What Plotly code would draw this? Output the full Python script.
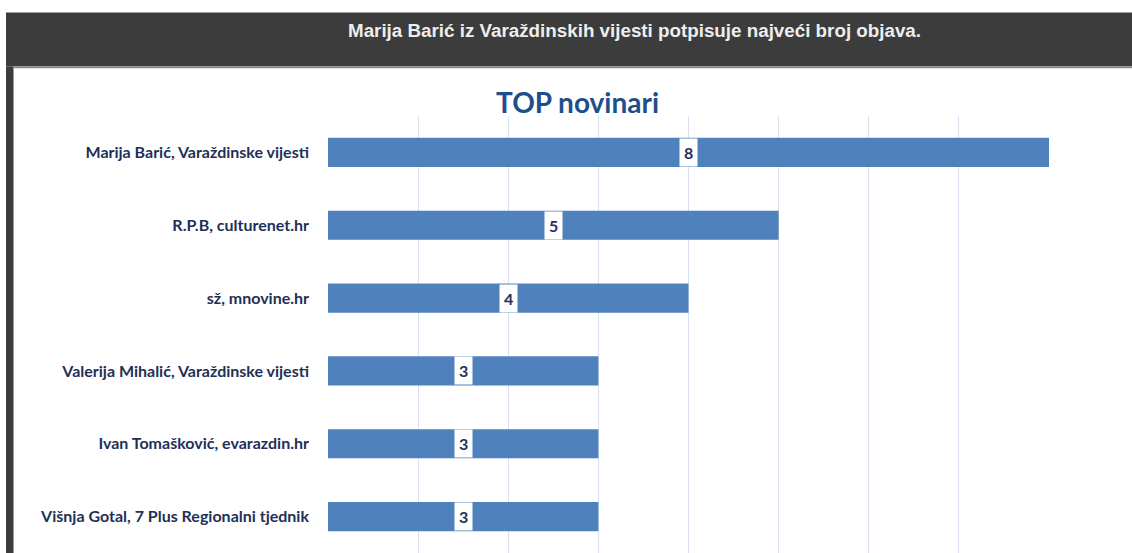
import plotly.graph_objects as go

categories = [
    "Marija Barić, Varaždinske vijesti",
    "R.P.B, culturenet.hr",
    "sž, mnovine.hr",
    "Valerija Mihalić, Varaždinske vijesti",
    "Ivan Tomašković, evarazdin.hr",
    "Višnja Gotal, 7 Plus Regionalni tjednik",
]
values = [8, 5, 4, 3, 3, 3]
x_ticks = [0, 1, 2, 3, 4, 5, 6, 7, 8]

header_text = "Marija Barić iz Varaždinskih vijesti potpisuje najveći broj objava."
chart_title = "TOP novinari"

W, H = 1132, 553
L, R, T, B = 328, 1049, 115.5, 553

def px(x):
    return (x - L) / (R - L)

def py(y):
    return (B - y) / (B - T)

fig = go.Figure()
fig.add_trace(go.Bar(
    x=values,
    y=categories,
    orientation="h",
    marker=dict(color="#4f81bd", line=dict(width=0)),
    hoverinfo="skip",
))

for c, v in zip(categories, values):
    fig.add_annotation(
        x=v / 2, y=c, xref="x", yref="y", text=f"<b>{v}</b>", showarrow=False,
        bgcolor="white", borderpad=4, xanchor="center", yanchor="middle",
        font=dict(family="Lato, Open Sans, sans-serif", size=16, color="#1f3057"),
    )

# header band and frame
shapes = [
    dict(type="rect", xref="paper", yref="paper", x0=px(6), x1=px(1132), y0=py(66), y1=py(12),
         fillcolor="#3c3c3c", line=dict(width=0), layer="below"),
    dict(type="rect", xref="paper", yref="paper", x0=px(6), x1=px(13.5), y0=py(553), y1=py(66),
         fillcolor="#3c3c3c", line=dict(width=0), layer="below"),
    dict(type="line", xref="paper", yref="paper", x0=px(13.5), x1=px(1132), y0=py(67), y1=py(67),
         line=dict(color="#8a8a8a", width=1.5), layer="below"),
]

fig.add_annotation(
    xref="paper", yref="paper", x=px(634), y=py(30), xanchor="center", yanchor="middle",
    text=f"<b>{header_text}</b>",
    showarrow=False, font=dict(family="Liberation Sans, Arial, sans-serif", size=18.8, color="#eeeeee"),
)
fig.add_annotation(
    xref="paper", yref="paper", x=px(577), y=py(101), xanchor="center", yanchor="middle",
    text=f"<b>{chart_title}</b>",
    showarrow=False, font=dict(family="Lato, Open Sans, sans-serif", size=28, color="#1f4e8c"),
)

fig.update_layout(
    width=W, height=H,
    margin=dict(l=L, r=W - R, t=T, b=H - B, pad=0),
    paper_bgcolor="white", plot_bgcolor="white",
    showlegend=False,
    bargap=0.6,
    shapes=shapes,
    xaxis=dict(range=[0, 8], tickvals=x_ticks, showticklabels=False, showgrid=True,
               gridcolor="#d9e1ef", gridwidth=1, zeroline=False, showline=False, fixedrange=True),
    yaxis=dict(autorange="reversed", showgrid=False, zeroline=False, showline=False,
               ticks="", ticklabelstandoff=18,
               tickfont=dict(family="Lato, Open Sans, sans-serif", size=16, color="#1f3057",
                             weight="bold"),
               fixedrange=True),
)

fig.write_html("out.html")
